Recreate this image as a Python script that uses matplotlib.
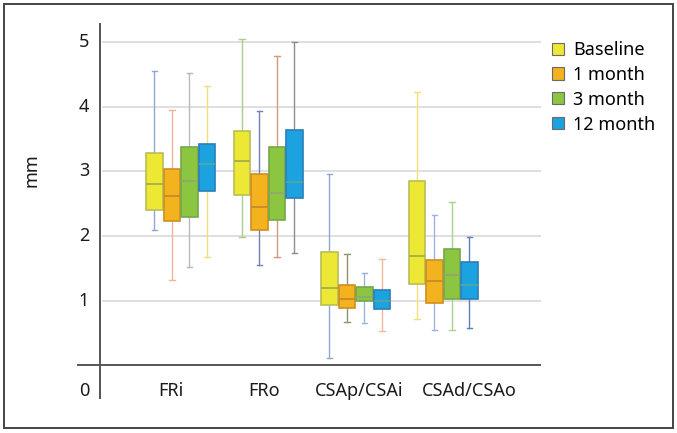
import matplotlib
matplotlib.use("Agg")
import matplotlib.pyplot as plt
from matplotlib.patches import Patch, Rectangle

plt.rcParams['font.family'] = ['Noto Sans', 'DejaVu Sans']

# categories and series
groups = ['FRi', 'FRo', 'CSAp/CSAi', 'CSAd/CSAo']
series = ['Baseline', '1 month', '3 month', '12 month']

# box statistics per series, one value per group (mm)
whis_lo = {
    'Baseline': [2.10, 1.99, 0.11, 0.72],
    '1 month':  [1.32, 1.55, 0.67, 0.55],
    '3 month':  [1.52, 1.68, 0.65, 0.55],
    '12 month': [1.68, 1.74, 0.53, 0.57],
}
q1 = {
    'Baseline': [2.40, 2.64, 0.93, 1.25],
    '1 month':  [2.23, 2.10, 0.88, 0.96],
    '3 month':  [2.29, 2.25, 0.99, 1.03],
    '12 month': [2.70, 2.59, 0.87, 1.03],
}
med = {
    'Baseline': [2.80, 3.16, 1.19, 1.69],
    '1 month':  [2.62, 2.45, 1.02, 1.31],
    '3 month':  [2.86, 2.67, 1.06, 1.40],
    '12 month': [3.11, 2.83, 1.00, 1.24],
}
q3 = {
    'Baseline': [3.28, 3.62, 1.75, 2.85],
    '1 month':  [3.04, 2.96, 1.24, 1.63],
    '3 month':  [3.38, 3.38, 1.21, 1.80],
    '12 month': [3.42, 3.65, 1.17, 1.59],
}
whis_hi = {
    'Baseline': [4.56, 5.06, 2.96, 4.23],
    '1 month':  [3.96, 3.94, 1.72, 2.33],
    '3 month':  [4.53, 4.79, 1.43, 2.52],
    '12 month': [4.33, 5.00, 1.65, 1.98],
}

yticks = [1, 2, 3, 4, 5]

# styling
face = {'Baseline': '#ECE833', '1 month': '#F3B31E',
        '3 month': '#8CC540', '12 month': '#1DA2E0'}
edge = {'Baseline': '#B9BE55', '1 month': '#D08E22',
        '3 month': '#74A84A', '12 month': '#2B7DB8'}
median_col = {'Baseline': '#9FAE48', '1 month': '#C98A2A',
              '3 month': '#8FA872', '12 month': '#4FA8A0'}
# whisker colours, per series, per group
whisker_col = {
    'Baseline': ['#8FA6D1', '#A8CF8A', '#8FA6D1', '#F2E07A'],
    '1 month':  ['#F0B49A', '#6E83B8', '#8E9470', '#9DB3DE'],
    '3 month':  ['#B9B9B9', '#D49A7A', '#9DB3DE', '#A8D58A'],
    '12 month': ['#F4DC80', '#8E8E8E', '#F2B99A', '#5C7DBE'],
}

W, H = 677, 433
fig = plt.figure(figsize=(W / 100, H / 100), dpi=100)

# axes placed in pixels: left 77, right 541, top 23, bottom 399
ax = fig.add_axes([77 / W, (H - 399) / H, (541 - 77) / W, (399 - 23) / H])
ax.set_xlim(-1.185, 4.118)
ax.set_ylim(-0.527, 5.302)
for s in ax.spines.values():
    s.set_visible(False)
ax.set_xticks([])
ax.set_yticks([])

# grid
ax.hlines(yticks, -0.895, 4.118, color='#DCDCDC', lw=1.3, zorder=0)

# axis lines
ax.axhline(0, color='#555555', lw=1.4, zorder=1)
ax.axvline(-0.918, color='#555555', lw=1.4, zorder=1)

step = 0.2
for j, name in enumerate(series):
    stats = []
    for i in range(len(groups)):
        stats.append(dict(whislo=whis_lo[name][i], q1=q1[name][i],
                          med=med[name][i], q3=q3[name][i],
                          whishi=whis_hi[name][i], fliers=[]))
    pos = [i + (j - 1.5) * step for i in range(len(groups))]
    bp = ax.bxp(stats, positions=pos, widths=0.19, patch_artist=True,
                showfliers=False, manage_ticks=False)
    for b in bp['boxes']:
        b.set_facecolor(face[name])
        b.set_edgecolor(edge[name])
        b.set_linewidth(1.2)
        b.set_zorder(3)
    for m in bp['medians']:
        m.set_color(median_col[name])
        m.set_linewidth(1.3)
        m.set_zorder(4)
    for k, w in enumerate(bp['whiskers']):
        w.set_color(whisker_col[name][k // 2])
        w.set_linewidth(1.0)
        w.set_zorder(2)
    for k, c in enumerate(bp['caps']):
        c.set_color(whisker_col[name][k // 2])
        c.set_linewidth(1.0)
        c.set_xdata([pos[k // 2] - 0.03, pos[k // 2] + 0.03])

txt = dict(fontsize=13, color='#1A1A1A')

# y tick labels
for t in yticks:
    ax.text(-1.105, t, str(t), ha='center', va='center', **txt)
ax.text(-1.105, -0.41, '0', ha='center', va='center', **txt)

# category labels (centres measured in the original layout)
label_x = [-0.11, 0.953, 2.04, 3.30]
for x, g in zip(label_x, groups):
    ax.text(x, -0.41, g, ha='center', va='center', **txt)

fig.text(32 / W, 1 - 170 / H, 'mm', rotation=90, ha='center', va='center',
         **txt)

handles = [Patch(facecolor=face[s], edgecolor='#6A6A6A', lw=0.8) for s in series]
fig.legend(handles, series, loc='upper left',
           bbox_to_anchor=(552 / W, 1 - 41 / H), frameon=False,
           fontsize=13, handlelength=0.65, handleheight=0.65,
           handletextpad=0.5, labelspacing=0.38, borderpad=0, borderaxespad=0)

# outer frame
fig.patches.append(Rectangle((4 / W, (H - 428) / H), 669 / W, 424 / H,
                             transform=fig.transFigure, fill=False,
                             edgecolor='#444444', lw=1.4))

fig.savefig('out.png', dpi=100)
